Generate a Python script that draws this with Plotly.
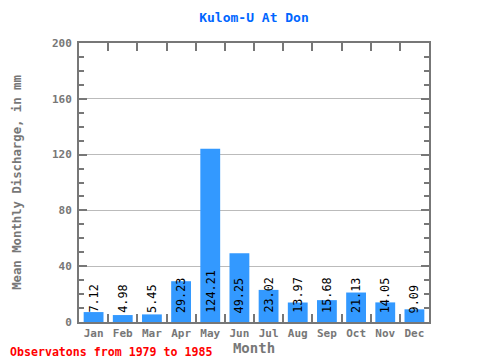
import plotly.graph_objects as go

months = ["Jan", "Feb", "Mar", "Apr", "May", "Jun", "Jul", "Aug", "Sep", "Oct", "Nov", "Dec"]
discharge = [7.12, 4.98, 5.45, 29.23, 124.21, 49.25, 23.02, 13.97, 15.68, 21.13, 14.05, 9.09]
labels = ["7.12", "4.98", "5.45", "29.23", "124.21", "49.25", "23.02", "13.97", "15.68", "21.13", "14.05", "9.09"]

FONT = "DejaVu Sans Mono"
GRAY = "#777777"

fig = go.Figure()
fig.add_trace(go.Bar(x=months, y=discharge, marker=dict(color="#3399ff", line=dict(width=0)),
                     width=0.68, hoverinfo="skip"))

for m, v, t in zip(months, discharge, labels):
    fig.add_annotation(x=m, y=0, text=t, textangle=-90, showarrow=False,
                       xanchor="center", yanchor="bottom", yshift=7,
                       font=dict(family=FONT, size=11.8, color="black"))

fig.add_annotation(xref="paper", yref="paper", x=-71 / 350, y=-0.108, xanchor="left", yanchor="middle",
                   text="<b>Observatons from 1979 to 1985</b>", showarrow=False,
                   font=dict(family=FONT, size=11.6, color="red"))

fig.update_layout(
    width=480, height=360,
    margin=dict(l=71, r=59, t=35, b=46, autoexpand=False),
    paper_bgcolor="white", plot_bgcolor="white",
    showlegend=False,
    title=dict(text="<b>Kulom-U At Don</b>", x=0.5, xref="paper", xanchor="center",
               y=0.975, yanchor="middle", yref="container",
               font=dict(family=FONT, size=13, color="#0066ff")),
    font=dict(family=FONT, color=GRAY),
    xaxis=dict(
        type="category", showline=True, linecolor=GRAY, linewidth=2, mirror="allticks",
        ticks="inside", tickson="boundaries", ticklen=8, tickwidth=2, tickcolor=GRAY,
        tickangle=0, automargin=False,
        showgrid=False, tickfont=dict(family=FONT, size=11, color=GRAY, weight="bold"),
        title=dict(text="<b>Month</b>", font=dict(family=FONT, size=14, color=GRAY), standoff=0),
        range=[-0.5, 11.5],
    ),
    yaxis=dict(
        range=[0, 200], tickvals=[0, 40, 80, 120, 160, 200], automargin=False,
        showline=True, linecolor=GRAY, linewidth=2, mirror="allticks",
        ticks="inside", ticklen=8, tickwidth=2, tickcolor=GRAY, ticklabelstandoff=3,
        showgrid=True, gridcolor="#bbbbbb", gridwidth=1, zeroline=False,
        minor=dict(dtick=10, ticks="inside", ticklen=5, tickwidth=2, tickcolor=GRAY, showgrid=False),
        tickfont=dict(family=FONT, size=11, color=GRAY, weight="bold"),
        title=dict(text="<b>Mean Monthly Discharge, in mm</b>", font=dict(family=FONT, size=12.3, color=GRAY), standoff=28),
    ),
)

fig.write_html("out.html")
